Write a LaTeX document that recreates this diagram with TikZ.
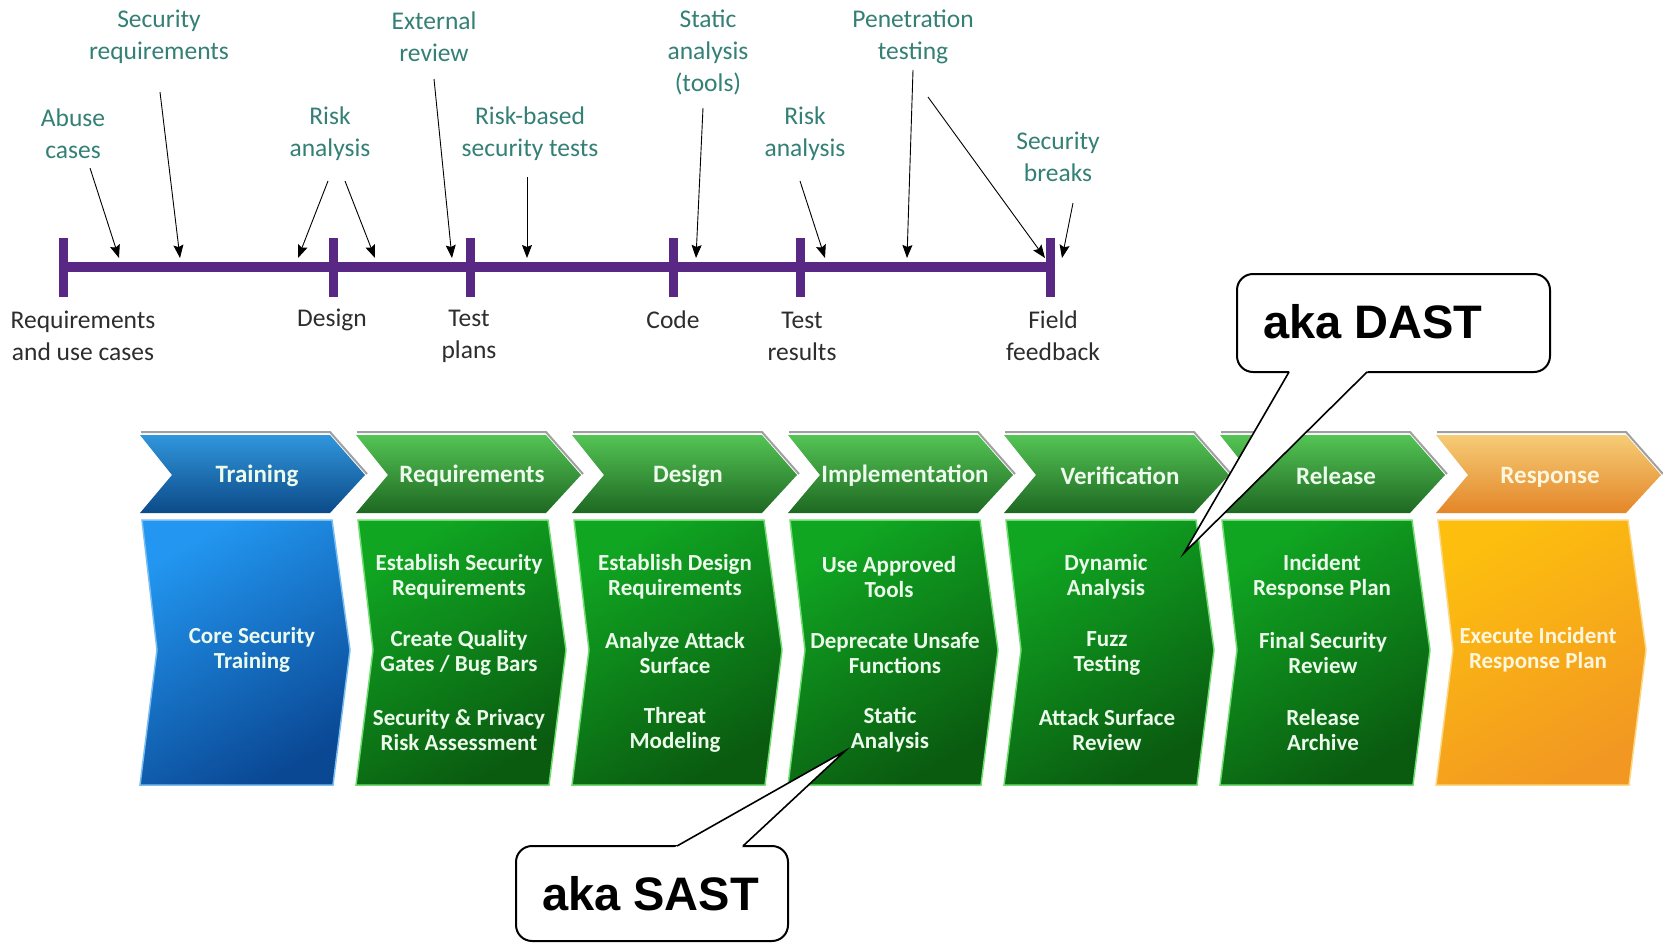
\documentclass[tikz,border=0pt]{standalone}
\usepackage{fontspec}
\setmainfont{Carlito}
\newfontfamily\calloutfont{Liberation Sans}
\usetikzlibrary{arrows.meta,shadings,calc}

\definecolor{tealtxt}{RGB}{52,128,118}
\definecolor{darktxt}{RGB}{45,45,45}
\definecolor{barpurple}{RGB}{88,40,132}
\definecolor{bhtop}{RGB}{48,150,220}
\definecolor{bhbot}{RGB}{12,74,136}
\definecolor{bbtop}{RGB}{34,150,240}
\definecolor{bbbot}{RGB}{10,72,148}
\definecolor{bline}{RGB}{120,190,240}
\definecolor{ghtop}{RGB}{84,196,84}
\definecolor{ghbot}{RGB}{30,104,34}
\definecolor{gbtop}{RGB}{16,166,34}
\definecolor{gbbot}{RGB}{10,90,16}
\definecolor{gline}{RGB}{110,220,110}
\definecolor{ohtop}{RGB}{245,204,118}
\definecolor{ohbot}{RGB}{228,134,40}
\definecolor{obtop}{RGB}{253,190,14}
\definecolor{obbot}{RGB}{242,152,34}
\definecolor{oline}{RGB}{250,215,130}
\definecolor{hdrshadow}{RGB}{160,160,160}
\definecolor{gtxt}{RGB}{236,250,236}
\definecolor{otxt}{RGB}{255,246,222}

\begin{document}
\begin{tikzpicture}[x=1pt,y=-1pt,
  tl/.style={font=\fontsize{25.5}{32}\selectfont, text=tealtxt, align=center, inner sep=0pt},
  ml/.style={font=\fontsize{25.5}{32}\selectfont, text=darktxt, align=center, inner sep=0pt},
  ptr/.style={-{Stealth[length=13pt,width=10pt,inset=2pt]}, line width=0.9pt, black},
  tickmark/.style={barpurple, line width=9pt},
  hdr/.style={font=\bfseries\fontsize{25}{30}\selectfont, text=gtxt, inner sep=0pt},
  bdy/.style={font=\bfseries\fontsize{23}{25}\selectfont, text=gtxt, align=center, inner sep=0pt},
  calloutbox/.style={draw=black, line width=2pt, fill=white, rounded corners=16pt, inner sep=0pt},
  callouttxt/.style={font=\calloutfont\bfseries\fontsize{47}{50}\selectfont, text=black, inner sep=0pt},
  calloutline/.style={draw=black, line width=1.6pt, line join=miter}
]
\useasboundingbox[fill=white] (0,0) rectangle (1663,943);

% ---------------- timeline ----------------
\coordinate (t1) at (63,267);
\coordinate (t2) at (333,267);
\coordinate (t3) at (470,267);
\coordinate (t4) at (673,267);
\coordinate (t5) at (800,267);
\coordinate (t6) at (1050,267);
\draw[barpurple, line width=10pt] (t1) -- (t6);
\foreach \t in {t1,t2,t3,t4,t5,t6}
  \draw[tickmark] ($(\t)+(0,-29)$) -- ($(\t)+(0,30)$);

% milestone labels
\node[ml] (mReq) at (83,336) {Requirements\\and use cases};
\node[ml] (mDes) at (332,320) {Design};
\node[ml] (mTP) at (469,336) {Test\\plans};
\node[ml] (mCode) at (673,320) {Code};
\node[ml] (mTR) at (802,336) {Test\\results};
\node[ml] (mFF) at (1053,336) {Field\\feedback};

% activity labels
\node[tl] (lAbuse) at (73,134) {Abuse\\cases};
\node[tl] (lSecReq) at (159,37) {Security\\requirements};
\node[tl] (lRisk1) at (330,134) {Risk\\analysis};
\node[tl] (lExt) at (434,37) {External\\review};
\node[tl] (lRBT) at (530,134) {Risk-based\\security tests};
\node[tl] (lStatic) at (708,52) {Static\\analysis\\(tools)};
\node[tl] (lRisk2) at (805,134) {Risk\\analysis};
\node[tl] (lPen) at (913,37) {Penetration\\testing};
\node[tl] (lBreaks) at (1058,157) {Security\\breaks};

% arrow end points
\coordinate (a1s) at (90,168);   \coordinate (a1e) at (119,258);
\coordinate (a2s) at (160,92);   \coordinate (a2e) at (180,258);
\coordinate (a3s) at (328,181);  \coordinate (a3e) at (298,258);
\coordinate (a4s) at (345,181);  \coordinate (a4e) at (375,258);
\coordinate (a5s) at (434,79);   \coordinate (a5e) at (452,258);
\coordinate (a6s) at (527,177);  \coordinate (a6e) at (527,258);
\coordinate (a7s) at (703,108);  \coordinate (a7e) at (696,258);
\coordinate (a8s) at (800,181);  \coordinate (a8e) at (825,258);
\coordinate (a9s) at (913,70);   \coordinate (a9e) at (907,258);
\coordinate (a10s) at (928,97);  \coordinate (a10e) at (1045,258);
\coordinate (a11s) at (1073,203); \coordinate (a11e) at (1062,258);
\foreach \i in {1,...,11}
  \draw[ptr] (a\i s) -- (a\i e);

% ---------------- SDL chevrons ----------------
\foreach \L/\cA/\cB/\cC/\cD/\cE in {
   140/bhtop/bhbot/bbtop/bbbot/bline,
   356/ghtop/ghbot/gbtop/gbbot/gline,
   572/ghtop/ghbot/gbtop/gbbot/gline,
   788/ghtop/ghbot/gbtop/gbbot/gline,
  1004/ghtop/ghbot/gbtop/gbbot/gline,
  1220/ghtop/ghbot/gbtop/gbbot/gline,
  1436/ohtop/ohbot/obtop/obbot/oline}{
  \draw[hdrshadow, line width=2pt] ({\L+1},432) -- ({\L+190},432) -- ({\L+227},474);
  \shade[top color=\cA, bottom color=\cB]
    (\L,435) -- ({\L+190},435) -- ({\L+225},475) -- ({\L+190},513) -- (\L,513) -- ({\L+32},475) -- cycle;
  \shadedraw[draw=\cE, line width=1.5pt, top color=\cC, bottom color=\cD, shading angle=30]
    ({\L+2},520) -- ({\L+192},520) -- ({\L+210},650) -- ({\L+193},785) -- (\L,785) -- ({\L+17},650) -- cycle;
}

% headers
\node[hdr] (hTrain) at (257,476) {Training};
\node[hdr] (hReq) at (472,476) {Requirements};
\node[hdr] (hDes) at (688,476) {Design};
\node[hdr] (hImp) at (905,476) {Implementation};
\node[hdr] (hVer) at (1120,476) {Verification};
\node[hdr] (hRel) at (1336,476) {Release};
\node[hdr, text=otxt] (hResp) at (1550,477) {Response};

% body texts
\node[bdy] (bTrain) at (252,650) {Core Security\\Training};

\node[bdy] (bReq1) at (459,577) {Establish Security\\Requirements};
\node[bdy] (bReq2) at (459,653) {Create Quality\\Gates / Bug Bars};
\node[bdy] (bReq3) at (459,730) {Security \& Privacy\\Risk Assessment};

\node[bdy] (bDes1) at (675,577) {Establish Design\\Requirements};
\node[bdy] (bDes2) at (675,653) {Analyze Attack\\Surface};
\node[bdy] (bDes3) at (675,730) {Threat\\Modeling};

\node[bdy] (bImp1) at (889,577) {Use Approved\\Tools};
\node[bdy] (bImp2) at (895,653) {Deprecate Unsafe\\Functions};
\node[bdy] (bImp3) at (890,730) {Static\\Analysis};

\node[bdy] (bVer1) at (1106,577) {Dynamic\\Analysis};
\node[bdy] (bVer2) at (1107,653) {Fuzz\\Testing};
\node[bdy] (bVer3) at (1107,730) {Attack Surface\\Review};

\node[bdy] (bRel1) at (1322,577) {Incident\\Response Plan};
\node[bdy] (bRel2) at (1323,653) {Final Security\\Review};
\node[bdy] (bRel3) at (1323,730) {Release\\Archive};

\node[bdy, text=otxt] (bResp) at (1538,650) {Execute Incident\\Response Plan};

% ---------------- callouts ----------------
\node[calloutbox, minimum width=313pt, minimum height=98pt] (dastbox) at (1393.5,323) {};
\node[callouttxt, anchor=west] (dasttxt) at (1263,322) {aka DAST};
\coordinate (dastL) at (1289,372);
\coordinate (dastR) at (1367,372);
\coordinate (dastTip) at (1184,553);
\fill[white] (dastTip) -- (1290.7,369) -- (1370,369) -- cycle;
\draw[calloutline] (dastL) -- (dastTip) -- (dastR);

\node[calloutbox, minimum width=272pt, minimum height=95pt] (sastbox) at (652,893.5) {};
\node[callouttxt, anchor=west] (sasttxt) at (542,894) {aka SAST};
\coordinate (sastL) at (677,846);
\coordinate (sastR) at (743,846);
\coordinate (sastTip) at (845,751);
\fill[white] (sastTip) -- (671.7,849) -- (739.8,849) -- cycle;
\draw[calloutline] (sastL) -- (sastTip) -- (sastR);
\end{tikzpicture}
\end{document}
